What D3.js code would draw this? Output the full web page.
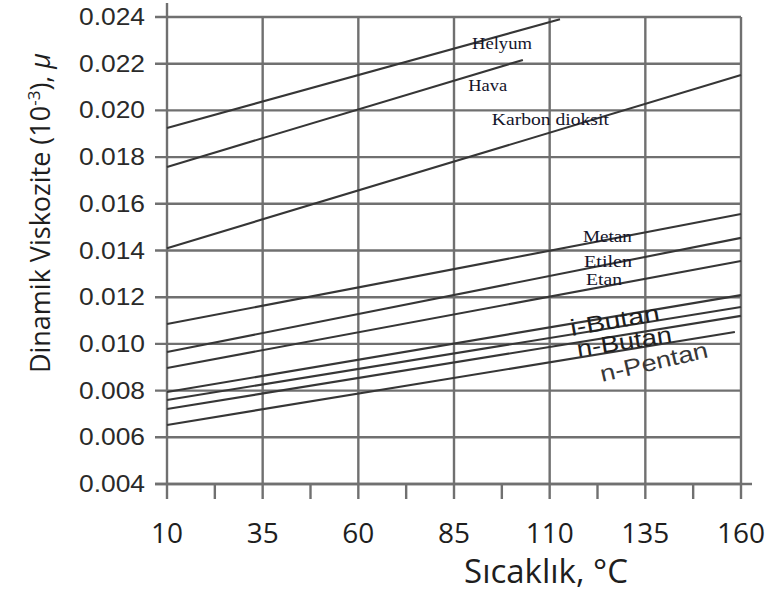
<!DOCTYPE html>
<meta charset="utf-8">
<style>
  body { margin: 0; background: #fff; }
  .grid line { stroke: #707070; stroke-width: 2.4px; }
  .gas path { fill: none; stroke: #363636; stroke-width: 2.1px; }
  .tick-y { font-family: "Liberation Sans", Arial, sans-serif; font-size: 23px; fill: #2a2a2a; }
  .tick-x { font-family: "Open Sans", sans-serif; font-size: 28px; fill: #1e1e1e; }
  .title { font-family: "Open Sans", sans-serif; fill: #1e1e1e; }
  .lbl-serif { font-family: "Liberation Serif", "Times New Roman", serif; font-size: 17px; fill: #14142a; }
  .lbl-sans { font-family: "Liberation Sans", Arial, sans-serif; font-size: 23px; fill: #1e1e1e; }
</style>
<body>
<svg width="767" height="593"></svg>
<script src="https://d3js.org/d3.v7.min.js"></script>
<script>

// ticks
var xTicks = [10, 35, 60, 85, 110, 135, 160];
var xMinor = [22.5, 47.5, 72.5, 97.5, 122.5, 147.5];
var yTicks = [0.004, 0.006, 0.008, 0.010, 0.012, 0.014, 0.016, 0.018, 0.020, 0.022, 0.024];

// gas lines: [temperature °C, viscosity]
var helyum        = [[10, 0.01925], [112.7, 0.0239]];
var hava          = [[10, 0.01758], [103, 0.02216]];
var karbonDioksit = [[10, 0.0141], [160, 0.02152]];
var metan         = [[10, 0.01085], [160, 0.01556]];
var etilen        = [[10, 0.00965], [160, 0.01454]];
var etan          = [[10, 0.00897], [160, 0.01355]];
var propan        = [[10, 0.00794], [160, 0.01209]];
var iButan        = [[10, 0.0076], [160, 0.01158]];
var nButan        = [[10, 0.00721], [160, 0.0112]];
var nPentan       = [[10, 0.00653], [158.4, 0.01051]];

var gases = [helyum, hava, karbonDioksit, metan, etilen, etan, propan, iButan, nButan, nPentan];

var svg = d3.select("svg");

var x = d3.scaleLinear().domain([10, 160]).range([167, 741]);
var y = d3.scaleLinear().domain([0.004, 0.024]).range([484, 17]);

var grid = svg.append("g").attr("class", "grid");

// horizontal grid lines, sticking out left of the axis like ticks
grid.selectAll("line.h")
    .data(yTicks)
    .enter().append("line")
    .attr("x1", x(10) - 12).attr("x2", x(160))
    .attr("y1", function (d) { return y(d); })
    .attr("y2", function (d) { return y(d); });

// vertical grid lines, sticking out below the bottom axis
grid.selectAll("line.v")
    .data(xTicks)
    .enter().append("line")
    .attr("x1", function (d) { return x(d); })
    .attr("x2", function (d) { return x(d); })
    .attr("y1", function (d) { return d == 10 ? 3 : y(0.024); })
    .attr("y2", y(0.004) + 15);

grid.selectAll("line.m")
    .data(xMinor)
    .enter().append("line")
    .attr("x1", function (d) { return x(d); })
    .attr("x2", function (d) { return x(d); })
    .attr("y1", y(0.004))
    .attr("y2", y(0.004) + 15);

// bottom axis runs a bit past the frame
grid.append("line")
    .attr("x1", x(10) - 12).attr("x2", x(160) + 11)
    .attr("y1", y(0.004)).attr("y2", y(0.004));

var line = d3.line()
    .x(function (d) { return x(d[0]); })
    .y(function (d) { return y(d[1]); });

svg.append("g").attr("class", "gas")
    .selectAll("path")
    .data(gases)
    .enter().append("path")
    .attr("d", line);

// tick labels
svg.append("g").selectAll("text")
    .data(yTicks)
    .enter().append("text")
    .attr("class", "tick-y")
    .attr("x", 145)
    .attr("y", function (d) { return y(d) + 8; })
    .attr("text-anchor", "end")
    .attr("textLength", 66)
    .attr("lengthAdjust", "spacingAndGlyphs")
    .text(function (d) { return d3.format(".3f")(d); });

svg.append("g").selectAll("text")
    .data(xTicks)
    .enter().append("text")
    .attr("class", "tick-x")
    .attr("x", function (d) { return x(d); })
    .attr("y", 543)
    .attr("text-anchor", "middle")
    .text(function (d) { return d; });

// axis titles
svg.append("text")
    .attr("class", "title")
    .attr("x", 546).attr("y", 583)
    .attr("text-anchor", "middle")
    .style("font-size", "33px")
    .text("Sıcaklık, °C");

var yt = svg.append("text")
    .attr("class", "title")
    .attr("transform", "translate(50,213) rotate(-90)")
    .attr("text-anchor", "middle")
    .style("font-size", "27px");
yt.append("tspan").text("Dinamik Viskozite (10");
yt.append("tspan").attr("dy", -10).style("font-size", "17px").text("-3");
yt.append("tspan").attr("dy", 10).text("), ");
yt.append("tspan").style("font-style", "italic").text("μ");

// gas names
var serifLabels = [
    {t: "Helyum", T: 89.7, v: 0.02263, w: 60},
    {t: "Hava", T: 88.7, v: 0.02083, w: 39},
    {t: "Karbon dioksit", T: 94.9, v: 0.01937, w: 117},
    {t: "Metan", T: 118.7, v: 0.01436, w: 49},
    {t: "Etilen", T: 119.0, v: 0.01329, w: 48},
    {t: "Etan", T: 119.5, v: 0.01252, w: 36}
];

svg.append("g").selectAll("text")
    .data(serifLabels)
    .enter().append("text")
    .attr("class", "lbl-serif")
    .attr("x", function (d) { return x(d.T); })
    .attr("y", function (d) { return y(d.v); })
    .attr("textLength", function (d) { return d.w; })
    .attr("lengthAdjust", "spacingAndGlyphs")
    .text(function (d) { return d.t; });

var sansLabels = [
    {t: "i-Butan", T: 115.8, v: 0.01034, w: 90, a: -10},
    {t: "n-Butan", T: 117.4, v: 0.00944, w: 96, a: -9},
    {t: "n-Pentan", T: 123.7, v: 0.00837, w: 110, a: -13}
];

svg.append("g").selectAll("text")
    .data(sansLabels)
    .enter().append("text")
    .attr("class", "lbl-sans")
    .attr("transform", function (d) {
        return "translate(" + x(d.T) + "," + y(d.v) + ") rotate(" + d.a + ")";
    })
    .attr("textLength", function (d) { return d.w; })
    .attr("lengthAdjust", "spacingAndGlyphs")
    .style("fill", function (d) { return d.t == "n-Pentan" ? "#383838" : null; })
    .text(function (d) { return d.t; });

</script>
</body>
